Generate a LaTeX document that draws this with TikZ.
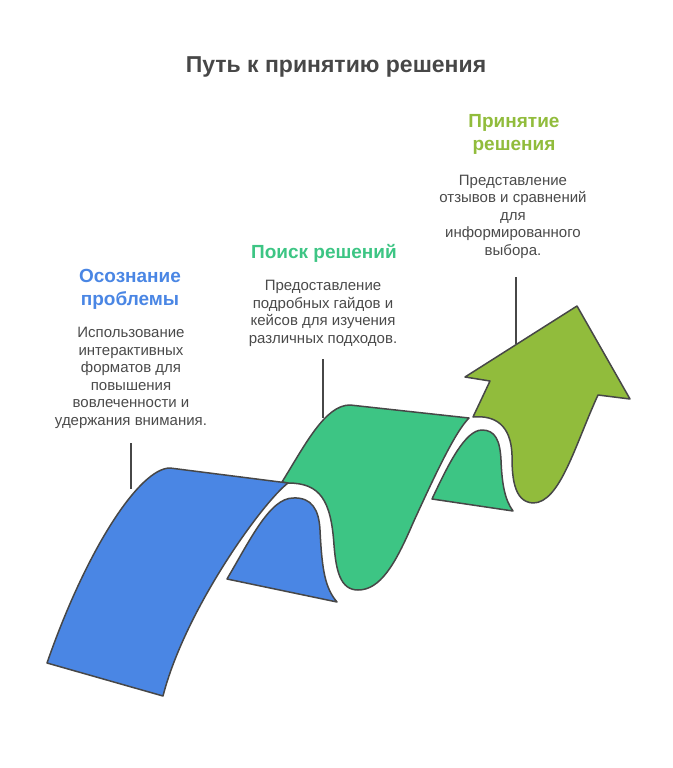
\documentclass[tikz,border=0pt]{standalone}
\usepackage{fontspec}
\setmainfont{Liberation Sans}
\definecolor{edgegray}{HTML}{474747}
\definecolor{textgray}{HTML}{4A4A4A}
\definecolor{stepblue}{HTML}{4A86E4}
\definecolor{stepgreen}{HTML}{3DC584}
\definecolor{stepolive}{HTML}{91BC3C}
\begin{document}
\begin{tikzpicture}[x=1pt,y=-1pt,
        ribbon/.style={draw=edgegray,line width=1.5pt,line join=round},
        leader/.style={draw=edgegray,line width=1.5pt},
        heading/.style={font=\fontsize{19}{22.5}\selectfont\bfseries,align=center,anchor=base},
        body/.style={font=\fontsize{15}{17.5}\selectfont,text=textgray,align=center,anchor=base}]
    \useasboundingbox (0,0) rectangle (672,768);

    % title
    \node[font=\fontsize{23}{26}\selectfont\bfseries,text=edgegray,anchor=base] (title) at (336,73) {Путь к принятию решения};

    % labels (base = last line)
    \node[heading,text=stepblue] (headblue) at (130,305) {Осознание\\проблемы};
    \node[body] (bodyblue) at (131,425) {Использование\\интерактивных\\форматов для\\повышения\\вовлеченности и\\удержания внимания.};

    \node[heading,text=stepgreen] (headgreen) at (324,258) {Поиск решений};
    \node[body] (bodygreen) at (323,343) {Предоставление\\подробных гайдов и\\кейсов для изучения\\различных подходов.};

    \node[heading,text=stepolive] (headolive) at (514,150) {Принятие\\решения};
    \node[body] (bodyolive) at (513,255) {Представление\\отзывов и сравнений\\для\\информированного\\выбора.};

    % back pieces
    \path[ribbon,fill=stepgreen] (432,499) .. controls (448,465) and (465,430) .. (482,430)
        .. controls (495,430) and (500,440) .. (501,460)
        .. controls (502,485) and (505,500) .. (513,511) -- cycle;
    \path[ribbon,fill=stepblue] (227,579) .. controls (250,540) and (270,498) .. (293,498)
        .. controls (312,497) and (319,510) .. (320,530)
        .. controls (322,570) and (325,588) .. (337,602) -- cycle;

    % arrow
    \path[ribbon,fill=stepolive] (473,417) -- (490,381) -- (465,377) -- (577,306) -- (630,399) -- (598,395)
        .. controls (575,445) and (560,503) .. (533,503)
        .. controls (513,502) and (512,475) .. (512,455)
        .. controls (511,425) and (495,415) .. (473,417) -- cycle;

    % green band
    \path[ribbon,fill=stepgreen] (282,482) .. controls (305,445) and (325,405) .. (350,405)
        -- (469,418)
        .. controls (455,432) and (435,475) .. (413,523)
        .. controls (395,565) and (380,590) .. (358,590)
        .. controls (340,590) and (336,570) .. (334,545)
        .. controls (331,500) and (320,483) .. (288,483) -- cycle;

    % blue band
    \path[ribbon,fill=stepblue] (47,663) .. controls (87,548) and (140,468) .. (170,468)
        -- (288,483)
        .. controls (262,503) and (185,610) .. (163,696) -- cycle;

    % leaders
    \coordinate (blueup) at (131,443);
    \coordinate (bluedown) at (131,489);
    \coordinate (greenup) at (323,359);
    \coordinate (greendown) at (323,418);
    \coordinate (oliveup) at (516,277);
    \coordinate (olivedown) at (516,344);
    \draw[leader] (blueup) -- (bluedown);
    \draw[leader] (greenup) -- (greendown);
    \draw[leader] (oliveup) -- (olivedown);
\end{tikzpicture}
\end{document}
